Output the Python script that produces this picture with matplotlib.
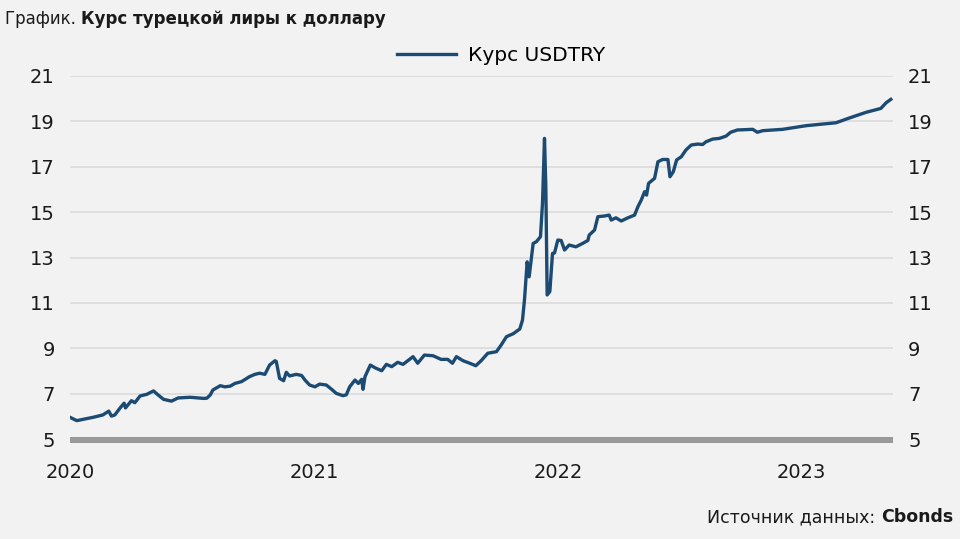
import pandas as pd
import matplotlib
matplotlib.use("Agg")
import matplotlib.pyplot as plt
from matplotlib.patches import Rectangle

# Курс USDTRY
dates = [
    "2020-01-02", "2020-01-11", "2020-02-05", "2020-02-19", "2020-02-28", "2020-03-03",
    "2020-03-08", "2020-03-16", "2020-03-22", "2020-03-24", "2020-04-02", "2020-04-07",
    "2020-04-15", "2020-04-25", "2020-05-05", "2020-05-12", "2020-05-20", "2020-06-01",
    "2020-06-11", "2020-06-29", "2020-07-19", "2020-07-24", "2020-07-29", "2020-08-02",
    "2020-08-13", "2020-08-20", "2020-08-28", "2020-09-04", "2020-09-14", "2020-09-26",
    "2020-10-04", "2020-10-11", "2020-10-19", "2020-10-26", "2020-11-03", "2020-11-05",
    "2020-11-10", "2020-11-16", "2020-11-20", "2020-11-25", "2020-12-05", "2020-12-13",
    "2020-12-18", "2020-12-25", "2021-01-02", "2021-01-09", "2021-01-19", "2021-01-27",
    "2021-02-03", "2021-02-13", "2021-02-18", "2021-02-23", "2021-03-03", "2021-03-08",
    "2021-03-13", "2021-03-15", "2021-03-18", "2021-03-26", "2021-04-02", "2021-04-12",
    "2021-04-19", "2021-04-27", "2021-05-06", "2021-05-14", "2021-05-29", "2021-06-05",
    "2021-06-15", "2021-06-28", "2021-07-10", "2021-07-20", "2021-07-27", "2021-08-02",
    "2021-08-12", "2021-08-22", "2021-08-31", "2021-09-08", "2021-09-18", "2021-10-01",
    "2021-10-08", "2021-10-16", "2021-10-26", "2021-11-05", "2021-11-09", "2021-11-12",
    "2021-11-16", "2021-11-19", "2021-11-25", "2021-11-30", "2021-12-06", "2021-12-09",
    "2021-12-12", "2021-12-14", "2021-12-16", "2021-12-20", "2021-12-24", "2021-12-27",
    "2022-01-01", "2022-01-06", "2022-01-11", "2022-01-18", "2022-01-28", "2022-02-07",
    "2022-02-15", "2022-02-17", "2022-02-25", "2022-03-02", "2022-03-12", "2022-03-19",
    "2022-03-22", "2022-03-29", "2022-04-06", "2022-04-16", "2022-04-26", "2022-05-01",
    "2022-05-06", "2022-05-11", "2022-05-14", "2022-05-17", "2022-05-26", "2022-05-31",
    "2022-06-07", "2022-06-15", "2022-06-18", "2022-06-23", "2022-06-28", "2022-07-05",
    "2022-07-12", "2022-07-20", "2022-07-30", "2022-08-06", "2022-08-11", "2022-08-21",
    "2022-08-31", "2022-09-10", "2022-09-17", "2022-09-27", "2022-10-20", "2022-10-27",
    "2022-11-04", "2022-12-04", "2023-01-08", "2023-02-22", "2023-03-12", "2023-04-08",
    "2023-04-30", "2023-05-08", "2023-05-15",
]
usdtry = [
    5.94, 5.81, 5.96, 6.06, 6.23, 6.01,
    6.06, 6.37, 6.58, 6.37, 6.69, 6.60,
    6.90, 6.97, 7.12, 6.94, 6.75, 6.67,
    6.81, 6.84, 6.79, 6.80, 6.94, 7.16,
    7.35, 7.30, 7.33, 7.45, 7.53, 7.75,
    7.85, 7.90, 7.85, 8.26, 8.45, 8.42,
    7.67, 7.57, 7.94, 7.78, 7.85, 7.80,
    7.60, 7.38, 7.30, 7.42, 7.38, 7.19,
    7.01, 6.91, 6.95, 7.30, 7.60, 7.45,
    7.63, 7.19, 7.75, 8.26, 8.14, 8.01,
    8.29, 8.19, 8.38, 8.29, 8.63, 8.34,
    8.70, 8.67, 8.51, 8.51, 8.34, 8.63,
    8.45, 8.34, 8.23, 8.45, 8.78, 8.85,
    9.14, 9.51, 9.64, 9.85, 10.24, 11.13,
    12.81, 12.15, 13.62, 13.70, 13.92, 15.39,
    18.25, 16.12, 11.35, 11.50, 13.18, 13.20,
    13.77, 13.75, 13.33, 13.55, 13.47, 13.62,
    13.75, 13.99, 14.21, 14.80, 14.83, 14.87,
    14.65, 14.75, 14.61, 14.75, 14.87, 15.24,
    15.53, 15.90, 15.75, 16.27, 16.49, 17.22,
    17.32, 17.32, 16.56, 16.78, 17.30, 17.44,
    17.74, 17.96, 18.00, 17.98, 18.10, 18.22,
    18.25, 18.35, 18.52, 18.62, 18.65, 18.52,
    18.59, 18.65, 18.81, 18.94, 19.13, 19.40,
    19.57, 19.82, 19.97,
]
year_ticks = ["2020-01-01", "2021-01-01", "2022-01-01", "2023-01-01"]
year_labels = ["2020", "2021", "2022", "2023"]
y_ticks = [5, 7, 9, 11, 13, 15, 17, 19, 21]

BG = "#f2f2f2"
LINE = "#1b4a72"
TXT = "#1a1a1a"

plt.rcParams["font.family"] = ["DejaVu Sans"]

fig = plt.figure(figsize=(9.6, 5.39), dpi=100, facecolor=BG)
ax = fig.add_axes([0.073, 0.1855, 0.857, 0.6735])
ax.set_facecolor(BG)

x = pd.to_datetime(dates)
ax.plot(x, usdtry, color=LINE, lw=2.4, solid_joinstyle="round", label="Курс USDTRY", zorder=3)

ax.set_xlim(pd.Timestamp("2020-01-01"), pd.Timestamp("2023-05-18"))
ax.set_ylim(5, 21)
ax.set_yticks(y_ticks)
for v in y_ticks[1:]:
    ax.axhline(v, color="#dedede", lw=1.4, zorder=1)

# серая полоса по низу оси (в координатах осей)
ax.add_patch(Rectangle((0, -0.011), 1, 0.0165, transform=ax.transAxes, color="#999999",
                       lw=0, clip_on=False, zorder=2))

ax.set_xticks(pd.to_datetime(year_ticks))
ax.set_xticklabels(year_labels)
for s in ax.spines.values():
    s.set_visible(False)
ax.tick_params(axis="both", length=0, labelsize=14, colors=TXT)
ax.tick_params(axis="x", pad=17)
ax.tick_params(axis="y", pad=11, labelleft=True, labelright=True)

# легенда
fig.legend(loc="center", bbox_to_anchor=(0.522, 0.897), frameon=False,
           fontsize=14.5, handlelength=2.9, handletextpad=0.6)

# заголовок
t1 = fig.text(0.005, 0.965, "График. ", fontsize=12, color=TXT, va="center", ha="left")
ax.annotate("Курс турецкой лиры к доллару", xy=(1, 0.5), xycoords=t1, fontsize=12,
            fontweight="bold", color=TXT, va="center", ha="left", annotation_clip=False)

# источник
t2 = fig.text(0.993, 0.04, "Cbonds", fontsize=12.5, fontweight="bold", color=TXT,
              va="center", ha="right")
ax.annotate("Источник данных: ", xy=(0, 0.5), xycoords=t2, fontsize=12.5, color=TXT,
            va="center", ha="right", annotation_clip=False)

fig.savefig("out.png", dpi=100, facecolor=BG)
